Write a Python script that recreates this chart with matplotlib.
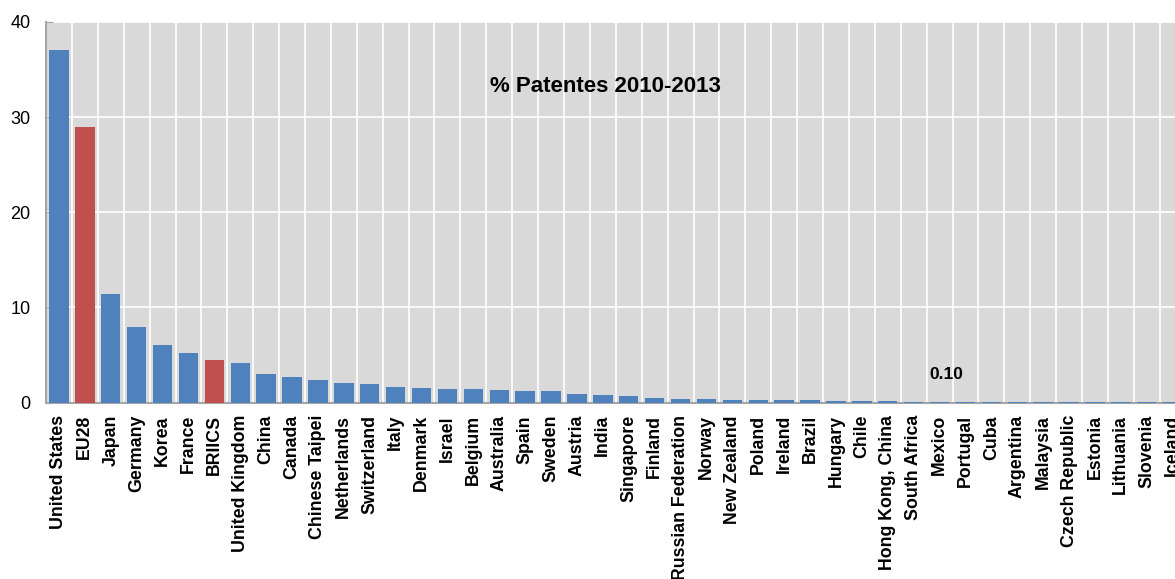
import numpy as np
import matplotlib
matplotlib.use("Agg")
import matplotlib.pyplot as plt

plt.rcParams['font.family'] = ['Liberation Sans', 'DejaVu Sans']

# share of patents by economy, 2010-2013 (%)
countries = ["United States", "EU28", "Japan", "Germany", "Korea", "France", "BRIICS",
             "United Kingdom", "China", "Canada", "Chinese Taipei", "Netherlands",
             "Switzerland", "Italy", "Denmark", "Israel", "Belgium", "Australia", "Spain",
             "Sweden", "Austria", "India", "Singapore", "Finland", "Russian Federation",
             "Norway", "New Zealand", "Poland", "Ireland", "Brazil", "Hungary", "Chile",
             "Hong Kong, China", "South Africa", "Mexico", "Portugal", "Cuba", "Argentina",
             "Malaysia", "Czech Republic", "Estonia", "Lithuania", "Slovenia", "Iceland"]
shares = [37.1, 29.0, 11.4, 7.9, 6.0, 5.2, 4.5,
          4.1, 3.0, 2.7, 2.4, 2.1,
          1.9, 1.65, 1.55, 1.4, 1.4, 1.32, 1.2,
          1.2, 0.93, 0.82, 0.65, 0.47, 0.37,
          0.37, 0.3, 0.3, 0.3, 0.22, 0.15, 0.12,
          0.11, 0.10, 0.10, 0.09, 0.08, 0.07,
          0.07, 0.06, 0.05, 0.05, 0.04, 0.04]
aggregates = ["EU28", "BRIICS"]
label_country = "Mexico"

blue = "#4f81bd"
red = "#c0504d"
colors = [red if c in aggregates else blue for c in countries]

fig = plt.figure(figsize=(11.75, 5.79), dpi=100)
# the last category runs slightly past the right edge of the figure
ax = fig.add_axes([46 / 1175, 1 - 402.5 / 579, 44 * 25.9 / 1175, 380.5 / 579])
ax.set_facecolor("#d9d9d9")

x = np.arange(len(countries))
ax.bar(x, shares, width=0.75, color=colors, zorder=3)

# white grid: horizontal at major ticks, vertical between categories
for v in [10, 20, 30, 40]:
    ax.axhline(v, color="white", lw=1.2, zorder=1)
for b in np.arange(0.5, len(countries) - 0.5, 1):
    ax.axvline(b, color="white", lw=1.2, zorder=1)

ax.set_xlim(-0.5, len(countries) - 0.5)
ax.set_ylim(0, 40)
ax.set_yticks([0, 10, 20, 30, 40])
ax.tick_params(axis="y", direction="in", length=5, color="#a6a6a6", labelsize=13, pad=11)
ax.set_xticks(x)
ax.set_xticklabels(countries, rotation=90, fontsize=12.8, fontweight="bold")
ax.tick_params(axis="x", length=0, pad=9)

for side in ["top", "right"]:
    ax.spines[side].set_visible(False)
for side in ["left", "bottom"]:
    ax.spines[side].set_color("#a6a6a6")
    ax.spines[side].set_linewidth(1.5)

ax.text(21.1, 33.2, "% Patentes 2010-2013", fontsize=16, fontweight="bold",
        ha="center", va="center", zorder=4)
i = countries.index(label_country)
ax.text(i + 0.28, 2.9, f"{shares[i]:.2f}", fontsize=12.5, fontweight="bold",
        ha="center", va="center", zorder=4)

fig.savefig("out.png", dpi=100)
